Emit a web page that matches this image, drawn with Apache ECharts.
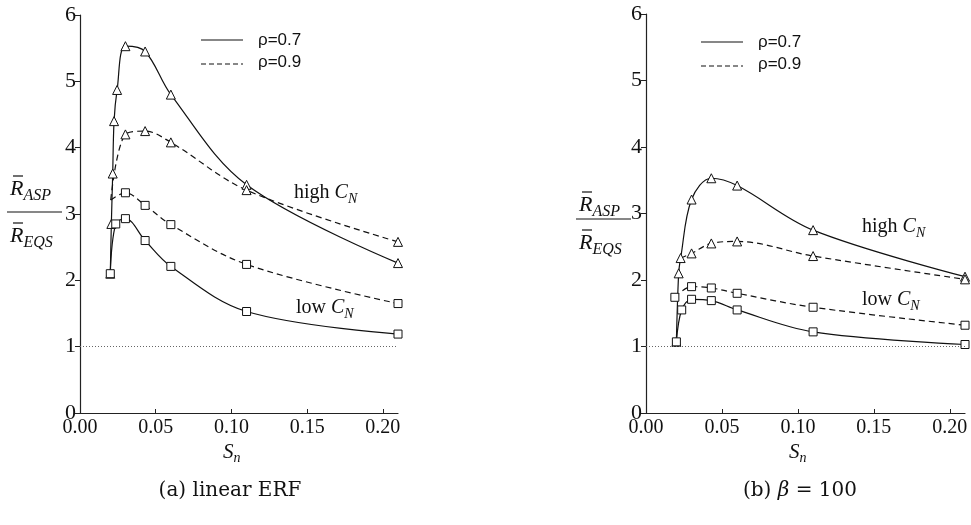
<!DOCTYPE html>
<html>
<head>
<meta charset="utf-8">
<script src="https://cdn.jsdelivr.net/npm/echarts@6/dist/echarts.min.js"></script>
<style>
  html, body { margin: 0; padding: 0; background: #fff; }
  #chart { width: 971px; height: 525px; }
</style>
</head>
<body>
<div id="chart"></div>
<script>
// ---- data: S_n values and R_ASP / R_EQS ratios ----
// (a) linear ERF
const aHigh07X = [0.020, 0.0207, 0.0216, 0.0225, 0.0245, 0.030, 0.043, 0.060, 0.110, 0.210];
const aHigh07Y = [2.10, 2.85, 3.61, 4.40, 4.87, 5.53, 5.45, 4.80, 3.44, 2.26];
const aHigh09X = [0.0203, 0.030, 0.043, 0.060, 0.110, 0.210];
const aHigh09Y = [3.21, 4.20, 4.25, 4.08, 3.36, 2.58];
const aLow09X  = [0.0203, 0.030, 0.043, 0.060, 0.110, 0.210];
const aLow09Y  = [3.21, 3.32, 3.13, 2.84, 2.24, 1.65];
const aLow07X  = [0.020, 0.0236, 0.030, 0.043, 0.060, 0.110, 0.210];
const aLow07Y  = [2.10, 2.85, 2.93, 2.60, 2.21, 1.53, 1.19];
// (b) beta = 100
const bHigh07X = [0.020, 0.0215, 0.0228, 0.030, 0.043, 0.060, 0.110, 0.210];
const bHigh07Y = [1.07, 2.10, 2.33, 3.21, 3.53, 3.42, 2.75, 2.05];
const bHigh09X = [0.0228, 0.030, 0.043, 0.060, 0.110, 0.210];
const bHigh09Y = [2.33, 2.40, 2.55, 2.58, 2.36, 2.01];
const bLow09X  = [0.019, 0.030, 0.043, 0.060, 0.110, 0.210];
const bLow09Y  = [1.74, 1.90, 1.88, 1.80, 1.59, 1.32];
const bLow07X  = [0.020, 0.0235, 0.030, 0.043, 0.060, 0.110, 0.210];
const bLow07Y  = [1.07, 1.55, 1.71, 1.69, 1.55, 1.22, 1.03];

const refLevel = 1;
const legendNames = ['ρ=0.7', 'ρ=0.9'];
const captions = ['(a) linear ERF', '(b) '];

// ---- helpers ----
const SERIF = '"Liberation Serif", "DejaVu Serif", serif';
const CAPSERIF = '"DejaVu Serif", "Liberation Serif", serif';
const SANS = '"Liberation Sans", Arial, sans-serif';
const measureCtx = document.createElement('canvas').getContext('2d');
function textWidth(txt, font) { measureCtx.font = font; return measureCtx.measureText(txt).width; }

function pairs(xs, ys, skipFirstSymbol) {
  return xs.map((x, i) => (skipFirstSymbol && i === 0) ? { value: [x, ys[i]], symbol: 'none' } : [x, ys[i]]);
}

function curve(name, idx, xs, ys, dashed, shape, skipFirst, withRef) {
  const s = {
    name: name, type: 'line', xAxisIndex: idx, yAxisIndex: idx,
    data: pairs(xs, ys, skipFirst),
    smooth: 0.35,
    symbol: shape, symbolSize: shape === 'triangle' ? 9 : 8,
    showAllSymbol: true,
    lineStyle: { color: '#111', width: 1.2, type: dashed ? [6, 4] : 'solid' },
    itemStyle: { color: '#fff', borderColor: '#111', borderWidth: 1 },
    emphasis: { disabled: true }, animation: false, z: 3
  };
  if (withRef) {
    s.markLine = {
      silent: true, symbol: 'none', animation: false,
      label: { show: false },
      lineStyle: { type: [1, 2], color: '#666', width: 1 },
      data: [{ yAxis: refLevel }]
    };
  }
  return s;
}

// text with italic main letter and italic subscript
function subText(x, y, main, sub, mainSize, subSize, prefix) {
  const els = [];
  let cx = x;
  if (prefix) {
    const f = mainSize + 'px ' + SERIF;
    els.push({ type: 'text', x: cx, y: y, style: { text: prefix, font: f, fill: '#111', align: 'left', verticalAlign: 'middle' } });
    cx += textWidth(prefix, f);
  }
  const mf = 'italic ' + mainSize + 'px ' + SERIF;
  els.push({ type: 'text', x: cx, y: y, style: { text: main, font: mf, fill: '#111', align: 'left', verticalAlign: 'middle' } });
  cx += textWidth(main, mf);
  const sf = 'italic ' + subSize + 'px ' + SERIF;
  els.push({ type: 'text', x: cx, y: y + mainSize * 0.3, style: { text: sub, font: sf, fill: '#111', align: 'left', verticalAlign: 'middle' } });
  return els;
}

function overlineR(x, y, sub) {
  const els = subText(x, y, 'R', sub, 22, 16);
  els.push({ type: 'line', shape: { x1: x + 3, y1: y - 13, x2: x + 13, y2: y - 13 }, style: { stroke: '#111', lineWidth: 1.2 } });
  return els;
}

function fraction(x, yTop, yBar, yBot, barW) {
  return [].concat(
    overlineR(x + 3, yTop, 'ASP'),
    [{ type: 'line', shape: { x1: x, y1: yBar, x2: x + barW, y2: yBar }, style: { stroke: '#111', lineWidth: 1.2 } }],
    overlineR(x + 3, yBot, 'EQS')
  );
}

function legendBlock(x, y) {
  return [
    { type: 'line', shape: { x1: x, y1: y, x2: x + 42, y2: y }, style: { stroke: '#111', lineWidth: 1.1 } },
    { type: 'text', x: x + 57, y: y, style: { text: legendNames[0], font: '17px ' + SANS, fill: '#111', verticalAlign: 'middle' } },
    { type: 'line', shape: { x1: x, y1: y + 24, x2: x + 42, y2: y + 24 }, style: { stroke: '#111', lineWidth: 1.1, lineDash: [5, 3] } },
    { type: 'text', x: x + 57, y: y + 22, style: { text: legendNames[1], font: '17px ' + SANS, fill: '#111', verticalAlign: 'middle' } }
  ];
}

function axisPair(gridIndex) {
  const x = {
    type: 'value', gridIndex: gridIndex, min: 0, max: 0.21, interval: 0.05,
    axisLine: { lineStyle: { color: '#222', width: 1.2 } },
    axisTick: { inside: true, length: 4, lineStyle: { color: '#222' } },
    axisLabel: { showMaxLabel: false, formatter: v => v.toFixed(2), color: '#111', fontFamily: SERIF, fontSize: 20, margin: 5 },
    splitLine: { show: false }
  };
  const y = {
    type: 'value', gridIndex: gridIndex, min: 0, max: 6, interval: 1,
    axisLine: { show: true, lineStyle: { color: '#222', width: 1.2 } },
    axisTick: { show: true, inside: false, length: 5, lineStyle: { color: '#222' } },
    axisLabel: { color: '#111', fontFamily: SERIF, fontSize: 22, margin: 4 },
    splitLine: { show: false }
  };
  return [x, y];
}

const [xa, ya] = axisPair(0);
const [xb, yb] = axisPair(1);

// captions, centred under each panel
const capFont = '20px ' + CAPSERIF;
const capItal = 'italic 20px ' + CAPSERIF;
const capTail = ' = 100';
const capBW = textWidth(captions[1], capFont) + textWidth('β', capItal) + textWidth(capTail, capFont);
const capBX = 800 - capBW / 2;

const graphics = [].concat(
  legendBlock(201, 40),
  legendBlock(701, 42),
  fraction(7, 189, 212, 236, 55),
  fraction(576, 205, 219, 243, 55),
  subText(294, 193, 'C', 'N', 20, 14, 'high '),
  subText(296, 308, 'C', 'N', 20, 14, 'low '),
  subText(862, 227, 'C', 'N', 20, 14, 'high '),
  subText(862, 300, 'C', 'N', 20, 14, 'low '),
  subText(223, 452, 'S', 'n', 21, 14),
  subText(789, 452, 'S', 'n', 21, 14),
  [
    { type: 'text', x: 230, y: 491, style: { text: captions[0], font: capFont, fill: '#111', align: 'center', verticalAlign: 'middle' } },
    { type: 'text', x: capBX, y: 491, style: { text: captions[1], font: capFont, fill: '#111', align: 'left', verticalAlign: 'middle' } },
    { type: 'text', x: capBX + textWidth(captions[1], capFont), y: 491, style: { text: 'β', font: capItal, fill: '#111', align: 'left', verticalAlign: 'middle' } },
    { type: 'text', x: capBX + textWidth(captions[1], capFont) + textWidth('β', capItal), y: 491, style: { text: capTail, font: capFont, fill: '#111', align: 'left', verticalAlign: 'middle' } }
  ]
);

const chart = echarts.init(document.getElementById('chart'), null, { renderer: 'canvas' });
chart.setOption({
  backgroundColor: '#fff',
  animation: false,
  grid: [
    { left: 80, top: 15, width: 318, height: 398 },
    { left: 646, top: 14, width: 319, height: 399 }
  ],
  xAxis: [xa, xb],
  yAxis: [ya, yb],
  series: [
    curve(legendNames[0] + ' high (a)', 0, aHigh07X, aHigh07Y, false, 'triangle', false, true),
    curve(legendNames[1] + ' high (a)', 0, aHigh09X, aHigh09Y, true, 'triangle', true, false),
    curve(legendNames[1] + ' low (a)', 0, aLow09X, aLow09Y, true, 'rect', true, false),
    curve(legendNames[0] + ' low (a)', 0, aLow07X, aLow07Y, false, 'rect', false, false),
    curve(legendNames[0] + ' high (b)', 1, bHigh07X, bHigh07Y, false, 'triangle', false, true),
    curve(legendNames[1] + ' high (b)', 1, bHigh09X, bHigh09Y, true, 'triangle', true, false),
    curve(legendNames[1] + ' low (b)', 1, bLow09X, bLow09Y, true, 'rect', false, false),
    curve(legendNames[0] + ' low (b)', 1, bLow07X, bLow07Y, false, 'rect', false, false)
  ],
  graphic: graphics
});
</script>
</body>
</html>
